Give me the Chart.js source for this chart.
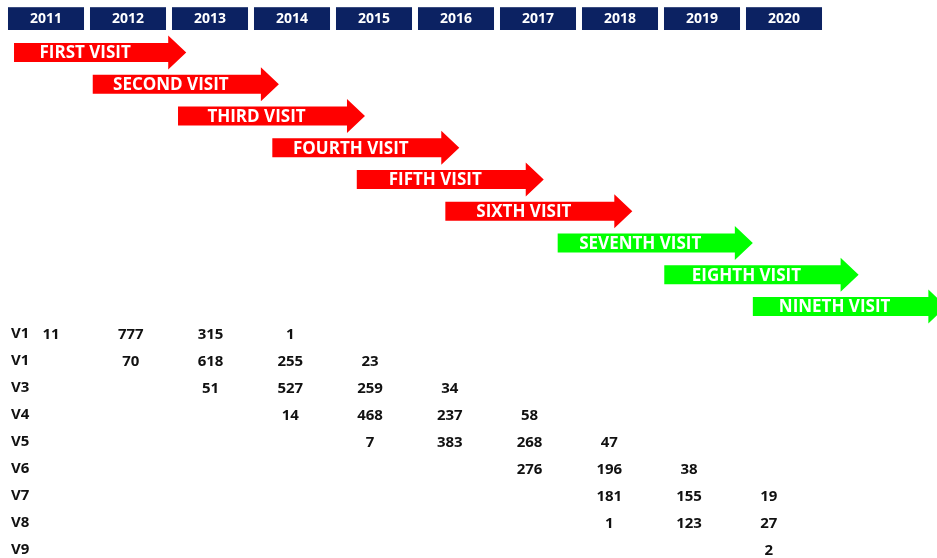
<!DOCTYPE html>
<html>
<head>
<meta charset="utf-8">
<script src="https://cdn.jsdelivr.net/npm/chart.js@4.4.1/dist/chart.umd.min.js"></script>
<style>
  html, body { margin: 0; padding: 0; background: #fff; }
  #wrap { position: relative; width: 937px; height: 558px; }
  #wrap canvas { position: absolute; left: 0; top: 0; }
</style>
</head>
<body>
<div id="wrap">
  <canvas id="visits" width="937" height="558"></canvas>
  <canvas id="counts" width="937" height="558"></canvas>
</div>
<script>
// years along the top
const years = [2011, 2012, 2013, 2014, 2015, 2016, 2017, 2018, 2019, 2020];

// visit windows (start year -> arrow tip)
const visitNames = ["FIRST VISIT", "SECOND VISIT", "THIRD VISIT", "FOURTH VISIT", "FIFTH VISIT",
  "SIXTH VISIT", "SEVENTH VISIT", "EIGHTH VISIT", "NINETH VISIT"];
const visitStart = [2010.61, 2011.57, 2012.61, 2013.76, 2014.79, 2015.87, 2017.24, 2018.54, 2019.62];
const visitEnd = [2012.71, 2013.84, 2014.89, 2016.04, 2017.07, 2018.15, 2019.62, 2020.91, 2021.98];

// table rows, counts per year (null = empty cell)
const rowLabels = ["V1", "V1", "V3", "V4", "V5", "V6", "V7", "V8", "V9"];
const v1Counts = [11, 777, 315, 1, null, null, null, null, null, null];
const v2Counts = [null, 70, 618, 255, 23, null, null, null, null, null];
const v3Counts = [null, null, 51, 527, 259, 34, null, null, null, null];
const v4Counts = [null, null, null, 14, 468, 237, 58, null, null, null];
const v5Counts = [null, null, null, null, 7, 383, 268, 47, null, null];
const v6Counts = [null, null, null, null, null, null, 276, 196, 38, null];
const v7Counts = [null, null, null, null, null, null, null, 181, 155, 19];
const v8Counts = [null, null, null, null, null, null, null, 1, 123, 27];
const v9Counts = [null, null, null, null, null, null, null, null, null, 2];

const RED = "#ff0000";
const GREEN = "#00ff00";
const NAVY = "#0c2262";
const FONT = "'Open Sans', 'DejaVu Sans', sans-serif";
const HEAD_LEN = 18;
const HEAD_HALF = 17;

// header/arrows: 2011 sits at x=46px, one year = 82px
const yearAtPx = (px) => 2011 + (px - 46) / 82;
// table columns are a little tighter: 2011 at x=51px, one year = 79.75px
const tableYearAtPx = (px) => 2011 + (px - 51) / 79.75;

Chart.defaults.font.family = FONT;
Chart.defaults.animation = false;
Chart.defaults.plugins.legend.display = false;
Chart.defaults.plugins.tooltip.enabled = false;

const arrowPlugin = {
  id: "arrows",
  beforeDatasetDraw(chart, args) {
    const ctx = chart.ctx;
    args.meta.data.forEach((bar, i) => {
      const { x, y, base, height } = bar.getProps(["x", "y", "base", "height"], true);
      const neck = x - HEAD_LEN;
      const half = height / 2;
      ctx.save();
      ctx.fillStyle = bar.options.backgroundColor;
      ctx.beginPath();
      ctx.moveTo(base, y - half);
      ctx.lineTo(neck, y - half);
      ctx.lineTo(neck, y - HEAD_HALF);
      ctx.lineTo(x, y);
      ctx.lineTo(neck, y + HEAD_HALF);
      ctx.lineTo(neck, y + half);
      ctx.lineTo(base, y + half);
      ctx.closePath();
      ctx.fill();
      ctx.fillStyle = "#fff";
      ctx.font = "bold 17px " + FONT;
      ctx.textAlign = "center";
      ctx.textBaseline = "middle";
      ctx.fillText(chart.data.labels[i], (base + neck) / 2 - 6, y + 1);
      ctx.restore();
    });
    return false;
  }
};

new Chart(document.getElementById("visits"), {
  type: "bar",
  data: {
    labels: visitNames,
    datasets: [{
      data: visitStart.map((s, i) => [s, visitEnd[i]]),
      barThickness: 19,
      backgroundColor: (c) => (c.dataIndex < 6 ? RED : GREEN)
    }]
  },
  options: {
    indexAxis: "y",
    responsive: false,
    devicePixelRatio: 1,
    layout: { padding: { top: 0.6, bottom: 235.6, left: 0, right: 0 } },
    scales: {
      x: {
        type: "linear",
        position: "top",
        min: yearAtPx(0),
        max: yearAtPx(937),
        grid: { display: false, drawTicks: false },
        border: { display: false },
        afterBuildTicks: (scale) => {
          scale.ticks = years.map((v) => ({ value: v }));
        },
        afterFit: (scale) => {
          scale.paddingLeft = 0;
          scale.paddingRight = 0;
        },
        ticks: {
          autoSkip: false,
          maxRotation: 0,
          padding: 9.6,
          color: "#fff",
          font: { size: 14, weight: "bold", lineHeight: 1.2 },
          showLabelBackdrop: true,
          backdropColor: NAVY,
          backdropPadding: { x: 22, y: 3 },
          callback: (v) => String(v)
        }
      },
      y: { type: "category", display: false, offset: true }
    }
  },
  plugins: [arrowPlugin]
});

const countRows = [v1Counts, v2Counts, v3Counts, v4Counts, v5Counts, v6Counts, v7Counts, v8Counts, v9Counts];

const countPlugin = {
  id: "counts",
  afterDatasetsDraw(chart) {
    const ctx = chart.ctx;
    ctx.save();
    ctx.font = "bold 15px " + FONT;
    ctx.fillStyle = "#111";
    ctx.textAlign = "center";
    ctx.textBaseline = "middle";
    chart.data.datasets.forEach((ds, di) => {
      chart.getDatasetMeta(di).data.forEach((pt, j) => {
        ctx.fillText(String(ds.data[j].count), pt.x, pt.y + 1);
      });
    });
    ctx.restore();
  }
};

new Chart(document.getElementById("counts"), {
  type: "scatter",
  data: {
    datasets: countRows.map((counts, row) => ({
      data: years
        .map((yr, j) => (counts[j] == null ? null : { x: yr, y: row, count: counts[j] }))
        .filter((p) => p),
      pointRadius: 0
    }))
  },
  options: {
    responsive: false,
    devicePixelRatio: 1,
    layout: { padding: { top: 334, bottom: 8, left: 11, right: 0 } },
    scales: {
      x: { type: "linear", display: false, min: tableYearAtPx(40), max: tableYearAtPx(937) },
      y: {
        type: "linear",
        reverse: true,
        min: 0,
        max: 8,
        grid: { display: false, drawTicks: false },
        border: { display: false },
        afterFit: (scale) => {
          scale.width = 29;
          scale.paddingTop = 0;
          scale.paddingBottom = 0;
        },
        ticks: {
          stepSize: 1,
          autoSkip: false,
          crossAlign: "far",
          padding: 0,
          color: "#111",
          font: { size: 15, weight: "bold" },
          callback: (v) => rowLabels[v]
        }
      }
    }
  },
  plugins: [countPlugin]
});
</script>
</body>
</html>
